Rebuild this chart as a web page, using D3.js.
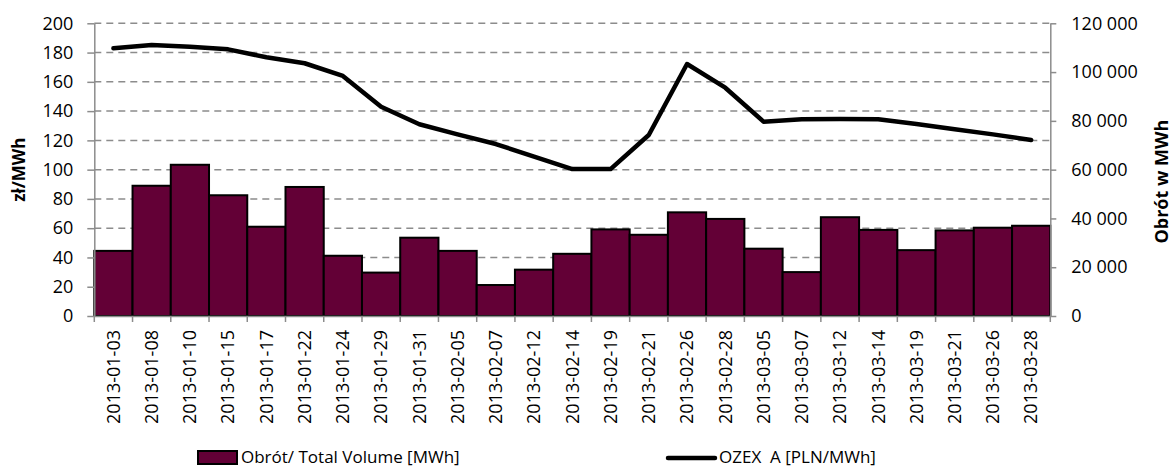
<!DOCTYPE html>
<html><head><meta charset="utf-8">
<script src="https://cdn.jsdelivr.net/npm/d3@7"></script>
<style>
html,body{margin:0;padding:0;background:#fff;}
svg{display:block;font-family:"Open Sans",sans-serif;}
</style></head>
<body><svg id="c" width="1176" height="468"></svg>
<script>
const dates = ["2013-01-03","2013-01-08","2013-01-10","2013-01-15","2013-01-17","2013-01-22","2013-01-24","2013-01-29","2013-01-31","2013-02-05","2013-02-07","2013-02-12","2013-02-14","2013-02-19","2013-02-21","2013-02-26","2013-02-28","2013-03-05","2013-03-07","2013-03-12","2013-03-14","2013-03-19","2013-03-21","2013-03-26","2013-03-28"];
const volume = [26700,53400,62000,49500,36600,52900,24700,17800,32100,26700,12700,19000,25500,35500,33300,42500,39800,27600,18000,40500,35300,27000,35100,36200,37000];
const price = [182.9,185.2,184.0,182.2,176.8,172.7,164.0,143.0,131.0,124.1,117.5,108.9,100.4,100.4,123.7,172.2,156.0,132.8,134.4,134.6,134.4,131.2,127.6,124.1,120.3];
const leftTicks = [0,20,40,60,80,100,120,140,160,180,200];
const rightTicks = [0,20000,40000,60000,80000,100000,120000];
const leftTitle = "zł/MWh";
const rightTitle = "Obrót w MWh";
const barLegend = "Obrót/ Total Volume [MWh]";
const lineLegend = "OZEX  A [PLN/MWh]";

const svg = d3.select("#c");
const L = 94.3, R = 1050.3, T = 23.3, B = 316;
const x = d3.scaleBand().domain(dates).range([L, R]).padding(0);
const yL = d3.scaleLinear().domain([0,200]).range([B, T]);
const yR = d3.scaleLinear().domain([0,120000]).range([B, T]);
const loc = d3.formatLocale({decimal:",", thousands:" ", grouping:[3], currency:["",""]});
const fmtR = loc.format(",d");
const axisCol = "#8c8c8c";

// gridlines
svg.append("g").selectAll("line").data(leftTicks.filter(d=>d>0)).join("line")
  .attr("x1", L).attr("x2", R).attr("y1", d=>yL(d)).attr("y2", d=>yL(d))
  .attr("stroke", axisCol).attr("stroke-width", 1.5).attr("stroke-dasharray", "7,5");

// bars
svg.append("g").selectAll("rect").data(dates).join("rect")
  .attr("x", d=>x(d)).attr("width", x.bandwidth())
  .attr("y", (d,i)=>yR(volume[i])).attr("height", (d,i)=>B - yR(volume[i]))
  .attr("fill", "#630036").attr("stroke", "#000").attr("stroke-width", 2);

// left axis
const gL = svg.append("g").attr("transform", `translate(${L},0)`)
  .call(d3.axisLeft(yL).tickValues(leftTicks).tickSize(7).tickSizeOuter(0).tickPadding(14));
// right axis
const gR = svg.append("g").attr("transform", `translate(${R},0)`)
  .call(d3.axisRight(yR).tickValues(rightTicks).tickSize(6).tickSizeOuter(0).tickPadding(15).tickFormat(fmtR));
// bottom axis (labels)
const gB = svg.append("g").attr("transform", `translate(0,${B})`)
  .call(d3.axisBottom(x).tickSize(0).tickSizeOuter(0));
gB.selectAll("text").attr("transform", "rotate(-90)").attr("text-anchor", "end")
  .attr("x", -14).attr("y", 0).attr("dy", "0.35em");
// boundary ticks
const bounds = dates.map(d=>x(d)).concat([x.range()[1]]);
gB.append("g").selectAll("line").data(bounds).join("line")
  .attr("x1", d=>d).attr("x2", d=>d).attr("y1", 0).attr("y2", 6)
  .attr("stroke", axisCol).attr("stroke-width", 1.5);

[gL, gR, gB].forEach(g=>{
  g.selectAll(".domain").attr("stroke", axisCol).attr("stroke-width", 1.5);
  g.selectAll(".tick line").attr("stroke", axisCol).attr("stroke-width", 1.5);
  g.selectAll("text").attr("font-size", 18).attr("fill", "#000").attr("font-family", "Open Sans");
});

// line
const line = d3.line().x((d,i)=>x(dates[i]) + x.bandwidth()/2).y(d=>yL(d));
svg.append("path").datum(price).attr("d", line).attr("fill", "none")
  .attr("stroke", "#000").attr("stroke-width", 4.5).attr("stroke-linejoin", "round").attr("stroke-linecap", "round");

// axis titles
svg.append("text").attr("transform", `translate(25,${(T+B)/2}) rotate(-90)`)
  .attr("text-anchor", "middle").attr("font-weight", "bold").attr("font-size", 17).text(leftTitle);
svg.append("text").attr("transform", `translate(1168,${(T+B)/2 + 12}) rotate(-90)`)
  .attr("text-anchor", "middle").attr("font-weight", "bold").attr("font-size", 18).text(rightTitle);

// legend
const lg = svg.append("g");
lg.append("rect").attr("x", 198).attr("y", 451).attr("width", 39).attr("height", 13)
  .attr("fill", "#630036").attr("stroke", "#000").attr("stroke-width", 2);
lg.append("text").attr("x", 241).attr("y", 457).attr("dy", "0.35em").attr("font-size", 17).text(barLegend);
lg.append("line").attr("x1", 668).attr("x2", 715).attr("y1", 458).attr("y2", 458)
  .attr("stroke", "#000").attr("stroke-width", 4.5).attr("stroke-linecap", "round");
lg.append("text").attr("x", 719).attr("y", 457).attr("dy", "0.35em").attr("font-size", 17)
  .attr("xml:space", "preserve").style("white-space", "pre").text(lineLegend);
</script></body></html>
